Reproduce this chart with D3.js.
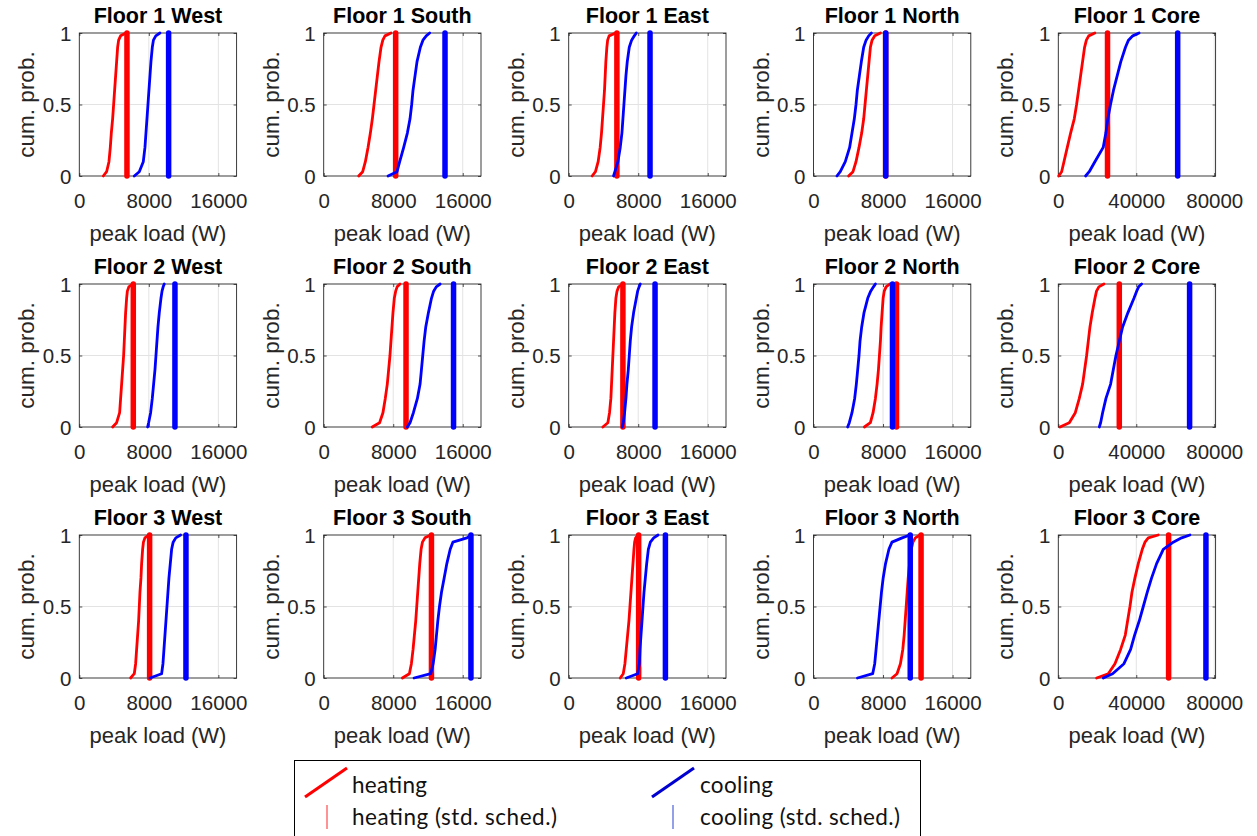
<!DOCTYPE html>
<html>
<head>
<meta charset="utf-8">
<script src="https://cdn.jsdelivr.net/npm/d3@7"></script>
<style>
  body { margin: 0; background: #fff; }
  svg { display: block; }
</style>
</head>
<body>
<svg id="chart" width="1257" height="836"></svg>
<script>
// Building zones, one panel per floor/zone pair (floor-major order)
const floors = [1, 2, 3];
const zones = ["West", "South", "East", "North", "Core"];

// Cumulative probability levels at which the peak loads are listed
const probLevels = [0, 0.03, 0.1, 0.2, 0.3, 0.4, 0.5, 0.6, 0.7, 0.8, 0.9, 0.95, 0.98, 1];

// Peak heating load (W) at each probability level, one row per panel
const heatingQuantiles = [
  [2761, 3145, 3413, 3567, 3682, 3835, 3950, 4065, 4180, 4295, 4410, 4525, 4750, 5369],
  [4027, 4487, 4794, 5101, 5369, 5599, 5791, 5983, 6174, 6366, 6596, 6800, 7050, 7747],
  [2696, 3081, 3389, 3620, 3774, 3889, 4005, 4121, 4198, 4275, 4390, 4480, 4650, 5391],
  [4044, 4544, 4891, 5237, 5545, 5776, 5930, 6084, 6238, 6392, 6547, 6740, 7050, 7702],
  [200, 1706, 2900, 4606, 6312, 8189, 9383, 10407, 11430, 12454, 13477, 14400, 15600, 18766],
  [3835, 4295, 4640, 4755, 4870, 4985, 5100, 5177, 5254, 5330, 5445, 5530, 5700, 6136],
  [5584, 6431, 6816, 7086, 7317, 7471, 7625, 7740, 7856, 7971, 8125, 8280, 8450, 8780],
  [3928, 4506, 4698, 4852, 4929, 5006, 5083, 5160, 5237, 5314, 5430, 5560, 5750, 6238],
  [5853, 6547, 6855, 7124, 7317, 7471, 7586, 7702, 7779, 7894, 8010, 8140, 8350, 8780],
  [855, 5642, 8719, 10771, 12481, 13507, 14532, 15387, 16242, 17439, 18806, 19600, 20800, 23423],
  [5905, 6327, 6481, 6596, 6711, 6826, 6903, 6980, 7095, 7171, 7286, 7380, 7550, 7977],
  [9050, 9859, 10090, 10282, 10436, 10590, 10706, 10821, 10937, 11052, 11206, 11360, 11650, 12322],
  [5930, 6277, 6470, 6624, 6778, 6932, 7047, 7163, 7278, 7394, 7509, 7586, 7702, 7971],
  [9030, 9613, 10002, 10275, 10431, 10547, 10664, 10781, 10898, 11054, 11248, 11443, 11715, 12260],
  [19662, 25646, 29065, 31972, 34365, 35562, 36759, 37785, 39323, 41033, 43084, 44452, 46162, 51291]
];

// Peak cooling load (W) at each probability level, one row per panel
const coolingQuantiles = [
  [6328, 6903, 7363, 7555, 7670, 7785, 7900, 8015, 8130, 8245, 8399, 8530, 8800, 9281],
  [7402, 8437, 8744, 9204, 9626, 9933, 10124, 10278, 10508, 10738, 11122, 11420, 11800, 12195],
  [5160, 5314, 5661, 5930, 6123, 6238, 6354, 6470, 6585, 6739, 6970, 7240, 7550, 7779],
  [2696, 3081, 3658, 4159, 4429, 4698, 4891, 5045, 5276, 5507, 5776, 6050, 6350, 6662],
  [13989, 15866, 18766, 23031, 24396, 25420, 26784, 28320, 30197, 32073, 34462, 36000, 38200, 41456],
  [7862, 7977, 8207, 8399, 8552, 8706, 8821, 8936, 9051, 9204, 9396, 9520, 9650, 9779],
  [9627, 9935, 10320, 10782, 11090, 11244, 11398, 11552, 11744, 12052, 12399, 12650, 12950, 13400],
  [6161, 6277, 6431, 6585, 6700, 6855, 6970, 7086, 7240, 7471, 7779, 7930, 8100, 8241],
  [3928, 4121, 4429, 4737, 4929, 5083, 5237, 5353, 5545, 5815, 6238, 6580, 6900, 7124],
  [21029, 21713, 22739, 24448, 26842, 28210, 29577, 31287, 32997, 35732, 38810, 40200, 41200, 42742],
  [8130, 9472, 9626, 9741, 9856, 9971, 10086, 10201, 10316, 10470, 10623, 10800, 11100, 11659],
  [10398, 12322, 12592, 12823, 12977, 13131, 13323, 13554, 13862, 14170, 14555, 14864, 16481, 16943],
  [6624, 7933, 8126, 8203, 8318, 8434, 8549, 8665, 8819, 8973, 9165, 9396, 9781, 10282],
  [5060, 6811, 7044, 7200, 7356, 7511, 7667, 7823, 8018, 8290, 8679, 9030, 10197, 11092],
  [23081, 27868, 33681, 37101, 39152, 41546, 43598, 45649, 47872, 50436, 53856, 58985, 63259, 67533]
];

// Peak loads (W) under the standard occupancy schedule, one per panel
const heatingStdSched = [5484, 8284, 5545, 8300, 25249, 6212, 9473, 6238, 9550, 31288, 8092, 12399, 8049, 12377, 56591];
const coolingStdSched = [10278, 13959, 9358, 8318, 61245, 11006, 14941, 9935, 9088, 67362, 12272, 16943, 11129, 11131, 75740];

// Axis ranges and ticks
const perimeterMax = 18100;
const coreMax = 80700;
const perimeterTicks = [0, 8000, 16000];
const coreTicks = [0, 40000, 80000];
const probTicks = [0, 0.5, 1];

const legendItems = ["heating", "heating (std. sched.)", "cooling", "cooling (std. sched.)"];

const RED = "#ff0000", BLUE = "#0000ff";
const AXIS_COLOR = "#262626", GRID_COLOR = "#e3e3e3";
const FONT = "'Liberation Sans', Arial, Helvetica, sans-serif";

const svg = d3.select("#chart");

const panelW = 157.3, panelH = 143;
const colLeft = [79.3, 323.7, 568.7, 813.5, 1058.3];
const rowTop = [33, 284, 535];

floors.forEach((floor, r) => {
  zones.forEach((zone, c) => {
    const i = r * zones.length + c;
    const isCore = zone === "Core";
    const x = d3.scaleLinear().domain([0, isCore ? coreMax : perimeterMax]).range([0, panelW]);
    const y = d3.scaleLinear().domain([0, 1]).range([panelH, 0]);
    const xTicks = isCore ? coreTicks : perimeterTicks;

    const g = svg.append("g").attr("transform", `translate(${colLeft[c]},${rowTop[r]})`);

    // grid
    g.append("g").selectAll("line").data(xTicks.filter(t => t > 0)).join("line")
      .attr("x1", d => x(d)).attr("x2", d => x(d))
      .attr("y1", 0).attr("y2", panelH)
      .attr("stroke", GRID_COLOR).attr("stroke-width", 1);
    g.append("g").selectAll("line").data(probTicks.filter(t => t > 0 && t < 1)).join("line")
      .attr("x1", 0).attr("x2", panelW)
      .attr("y1", d => y(d)).attr("y2", d => y(d))
      .attr("stroke", GRID_COLOR).attr("stroke-width", 1);

    // axes with inward ticks on all four sides
    const axB = g.append("g").attr("transform", `translate(0,${panelH})`)
      .call(d3.axisBottom(x).tickValues(xTicks).tickSizeInner(-3).tickSizeOuter(0).tickPadding(17).tickFormat(d3.format("d")));
    const axT = g.append("g")
      .call(d3.axisTop(x).tickValues(xTicks).tickSizeInner(-3).tickSizeOuter(0).tickFormat(""));
    const axL = g.append("g")
      .call(d3.axisLeft(y).tickValues(probTicks).tickSizeInner(-3).tickSizeOuter(0).tickPadding(8).tickFormat(d3.format("")));
    const axR = g.append("g").attr("transform", `translate(${panelW},0)`)
      .call(d3.axisRight(y).tickValues(probTicks).tickSizeInner(-3).tickSizeOuter(0).tickFormat(""));
    [axB, axT, axL, axR].forEach(a => {
      a.select(".domain").remove();
      a.selectAll("line").attr("stroke", AXIS_COLOR).attr("stroke-width", 0.8);
      a.selectAll("text").attr("fill", AXIS_COLOR).attr("font-family", FONT).attr("font-size", 20.5);
    });
    axB.selectAll("text").attr("dy", "0.72em");
    axL.selectAll("text").attr("dy", "0.35em");

    // box
    g.append("rect").attr("x", 0).attr("y", 0).attr("width", panelW).attr("height", panelH)
      .attr("fill", "none").attr("stroke", AXIS_COLOR).attr("stroke-width", 0.9);

    // cumulative distribution curves and standard-schedule lines
    const line = d3.line().x(d => x(d[0])).y(d => y(d[1]));
    const heatPts = heatingQuantiles[i].map((v, k) => [v, probLevels[k]]);
    const coolPts = coolingQuantiles[i].map((v, k) => [v, probLevels[k]]);

    g.append("path").datum(heatPts).attr("d", line)
      .attr("fill", "none").attr("stroke", RED).attr("stroke-width", 2.8)
      .attr("stroke-linejoin", "round").attr("stroke-linecap", "round");
    g.append("line")
      .attr("x1", x(heatingStdSched[i])).attr("x2", x(heatingStdSched[i]))
      .attr("y1", y(0)).attr("y2", y(1))
      .attr("stroke", RED).attr("stroke-width", 5.5).attr("stroke-linecap", "round");
    g.append("path").datum(coolPts).attr("d", line)
      .attr("fill", "none").attr("stroke", BLUE).attr("stroke-width", 2.8)
      .attr("stroke-linejoin", "round").attr("stroke-linecap", "round");
    g.append("line")
      .attr("x1", x(coolingStdSched[i])).attr("x2", x(coolingStdSched[i]))
      .attr("y1", y(0)).attr("y2", y(1))
      .attr("stroke", BLUE).attr("stroke-width", 5.5).attr("stroke-linecap", "round");

    // title and axis labels
    g.append("text").attr("x", panelW / 2).attr("y", -10)
      .attr("text-anchor", "middle").attr("font-family", FONT).attr("font-weight", "bold")
      .attr("font-size", 21.5).attr("fill", "#000").text(`Floor ${floor} ${zone}`);
    g.append("text").attr("x", panelW / 2).attr("y", panelH + 65)
      .attr("text-anchor", "middle").attr("font-family", FONT)
      .attr("font-size", 22).attr("fill", AXIS_COLOR).text("peak load (W)");
    g.append("text").attr("transform", `translate(-45,${panelH / 2}) rotate(-90)`)
      .attr("text-anchor", "middle").attr("font-family", FONT)
      .attr("font-size", 22.5).attr("fill", AXIS_COLOR).text("cum. prob.");
  });
});

// legend
const lg = svg.append("g");
lg.append("rect").attr("x", 294.5).attr("y", 760.5).attr("width", 626).attr("height", 90)
  .attr("fill", "#fff").attr("stroke", "#000").attr("stroke-width", 1);
const LFONT = "Lato, 'Open Sans', sans-serif";
const legendPos = [
  { x: 352, y: 793, kind: "curve", color: RED, ix: 305, w: 75 },
  { x: 352, y: 825, kind: "std", color: "#ff6f6f", ix: 327, w: 205 },
  { x: 700, y: 793, kind: "curve", color: "#0000d0", ix: 652, w: 73 },
  { x: 700, y: 825, kind: "std", color: "#7080e0", ix: 673, w: 200 }
];
legendItems.forEach((label, k) => {
  const p = legendPos[k];
  if (p.kind === "curve") {
    lg.append("line").attr("x1", p.ix).attr("y1", p.y + 4).attr("x2", p.ix + 42).attr("y2", p.y - 25)
      .attr("stroke", p.color).attr("stroke-width", 3);
  } else {
    lg.append("line").attr("x1", p.ix).attr("x2", p.ix).attr("y1", p.y - 20).attr("y2", p.y + 4)
      .attr("stroke", p.color).attr("stroke-width", 1.5);
  }
  lg.append("text").attr("x", p.x).attr("y", p.y).attr("font-family", LFONT)
    .attr("font-size", 22.5).attr("fill", "#111")
    .attr("textLength", p.w).attr("lengthAdjust", "spacing").text(label);
});
</script>
</body>
</html>
